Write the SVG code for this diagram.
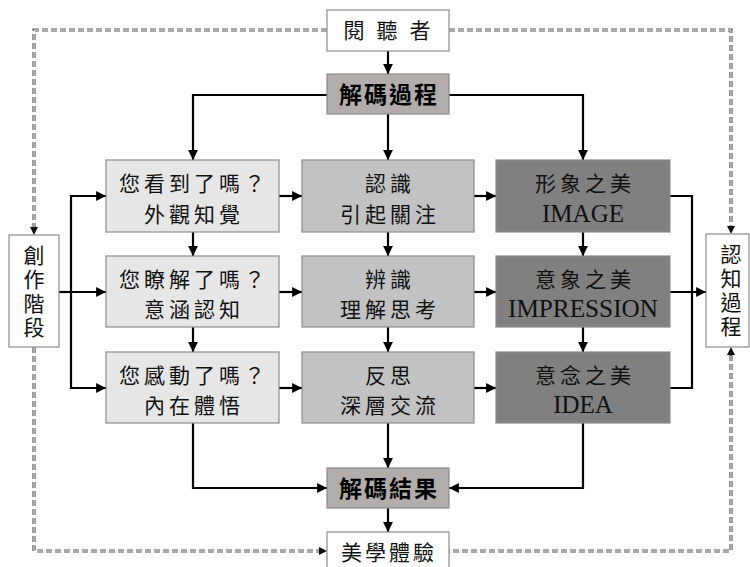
<svg xmlns="http://www.w3.org/2000/svg" width="750" height="567" viewBox="0 0 750 567">
<defs>
<marker id="ah" viewBox="0 0 10 10" refX="10" refY="5" markerWidth="4.5" markerHeight="4.5" orient="auto" markerUnits="strokeWidth"><path d="M0,0 L10,5 L0,10 z" fill="#000"/></marker>
</defs>
<style>
.b{stroke:#8c8c8c;stroke-width:1.2}
.w{fill:#fff}
.c1{fill:#e6e6e6}
.c2{fill:#c2c2c2}
.c3{fill:#808080}
.dk{fill:#b2acab}
.t{font-family:"Liberation Serif","Noto Sans CJK TC",serif;font-size:21px;fill:#111;text-anchor:middle;letter-spacing:4px}
.v{font-family:"Liberation Serif","Noto Sans CJK TC",serif;font-size:21px;fill:#111;text-anchor:middle}
.e{font-family:"Liberation Serif",serif;font-size:25px;fill:#111;text-anchor:middle}
.bd{font-family:"Noto Sans CJK TC",sans-serif;font-size:23px;font-weight:bold;fill:#000;text-anchor:middle;letter-spacing:2px}
.ln{fill:none;stroke:#000;stroke-width:2.2}
.dsh{fill:none;stroke:#555;stroke-width:3.2;stroke-dasharray:6 3}
.dshw{fill:none;stroke:#fff;stroke-width:1}
</style>
<g id="connectors">
<path class="dsh" d="M327,30 H34 V229"/>
<path class="dsh" d="M449,30 H731 V228"/>
<path class="dsh" d="M34,347 V551 H320"/>
<path class="dsh" d="M731,355 V551 H449"/>
<path class="dshw" d="M327,30 H34 V228"/>
<path class="dshw" d="M449,30 H731 V228"/>
<path class="dshw" d="M34,347 V551 H319"/>
<path class="dshw" d="M731,356 V551 H449"/>
<path d="M30,227 L38,227 L34,235 z" fill="#111"/>
<path d="M727,226 L735,226 L731,234 z" fill="#111"/>
<path d="M319,547 L319,555 L327,551 z" fill="#111"/>
<path d="M727,355 L735,355 L731,347 z" fill="#111"/>
<path class="ln" marker-end="url(#ah)" d="M388,51 V74"/>
<path class="ln" marker-end="url(#ah)" d="M327,95 H193 V160"/>
<path class="ln" marker-end="url(#ah)" d="M449,95 H583 V160"/>
<path class="ln" marker-end="url(#ah)" d="M388,114 V160"/>
<path class="ln" d="M59,292 H71"/>
<path class="ln" marker-end="url(#ah)" d="M71,292 V196 H106"/>
<path class="ln" marker-end="url(#ah)" d="M71,292 H106"/>
<path class="ln" marker-end="url(#ah)" d="M71,292 V388 H106"/>
<path class="ln" marker-end="url(#ah)" d="M279,196 H302"/>
<path class="ln" marker-end="url(#ah)" d="M279,292 H302"/>
<path class="ln" marker-end="url(#ah)" d="M279,388 H302"/>
<path class="ln" marker-end="url(#ah)" d="M474,196 H496"/>
<path class="ln" marker-end="url(#ah)" d="M474,292 H496"/>
<path class="ln" marker-end="url(#ah)" d="M474,388 H496"/>
<path class="ln" marker-end="url(#ah)" d="M193,232 V256"/>
<path class="ln" marker-end="url(#ah)" d="M193,327 V352"/>
<path class="ln" marker-end="url(#ah)" d="M388,232 V256"/>
<path class="ln" marker-end="url(#ah)" d="M388,327 V352"/>
<path class="ln" marker-end="url(#ah)" d="M583,232 V256"/>
<path class="ln" marker-end="url(#ah)" d="M583,327 V352"/>
<path class="ln" d="M670,196 H692 V388 H670"/>
<path class="ln" marker-end="url(#ah)" d="M670,292 H706"/>
<path class="ln" marker-end="url(#ah)" d="M193,423 V488 H327"/>
<path class="ln" marker-end="url(#ah)" d="M583,423 V488 H449"/>
<path class="ln" marker-end="url(#ah)" d="M388,423 V468"/>
<path class="ln" marker-end="url(#ah)" d="M388,508 V532"/>
</g>
<g id="audience"><rect class="b w" x="327" y="10" width="122" height="41"/><text class="t" x="393" y="38" style="letter-spacing:12px">閱聽者</text></g>
<g id="decode-process"><rect class="b dk" x="327" y="74" width="122" height="40"/><text class="bd" x="389" y="103">解碼過程</text></g>
<g id="creation"><rect class="b w" x="9" y="235" width="50" height="112"/>
<text class="v" x="34" y="263">創</text><text class="v" x="34" y="287">作</text><text class="v" x="34" y="311">階</text><text class="v" x="34" y="335">段</text></g>
<g id="cognition"><rect class="b w" x="706" y="234" width="43" height="113"/>
<text class="v" x="731" y="262">認</text><text class="v" x="731" y="286">知</text><text class="v" x="731" y="310">過</text><text class="v" x="731" y="334">程</text></g>
<g id="q1"><rect class="b c1" x="106" y="160" width="173" height="72"/><text class="t" x="194" y="191">您看到了嗎？</text><text class="t" x="194" y="222">外觀知覺</text></g>
<g id="q2"><rect class="b c1" x="106" y="256" width="173" height="71"/><text class="t" x="194" y="287">您瞭解了嗎？</text><text class="t" x="194" y="317">意涵認知</text></g>
<g id="q3"><rect class="b c1" x="106" y="352" width="173" height="71"/><text class="t" x="194" y="383">您感動了嗎？</text><text class="t" x="194" y="413">內在體悟</text></g>
<g id="m1"><rect class="b c2" x="302" y="160" width="172" height="72"/><text class="t" x="390" y="191">認識</text><text class="t" x="390" y="222">引起關注</text></g>
<g id="m2"><rect class="b c2" x="302" y="256" width="172" height="71"/><text class="t" x="390" y="287">辨識</text><text class="t" x="390" y="317">理解思考</text></g>
<g id="m3"><rect class="b c2" x="302" y="352" width="172" height="71"/><text class="t" x="390" y="383">反思</text><text class="t" x="390" y="413">深層交流</text></g>
<g id="r1"><rect class="b c3" x="496" y="160" width="174" height="72"/><text class="t" x="585" y="191">形象之美</text><text class="e" x="583" y="222">IMAGE</text></g>
<g id="r2"><rect class="b c3" x="496" y="256" width="174" height="71"/><text class="t" x="585" y="287">意象之美</text><text class="e" x="583" y="317" textLength="150" lengthAdjust="spacingAndGlyphs">IMPRESSION</text></g>
<g id="r3"><rect class="b c3" x="496" y="352" width="174" height="71"/><text class="t" x="585" y="383">意念之美</text><text class="e" x="583" y="413">IDEA</text></g>
<g id="decode-result"><rect class="b dk" x="327" y="468" width="122" height="40"/><text class="bd" x="389" y="497">解碼結果</text></g>
<g id="aesthetic"><rect class="b w" x="327" y="532" width="122" height="40"/><text class="t" x="389" y="560" style="letter-spacing:3px">美學體驗</text></g>
</svg>
